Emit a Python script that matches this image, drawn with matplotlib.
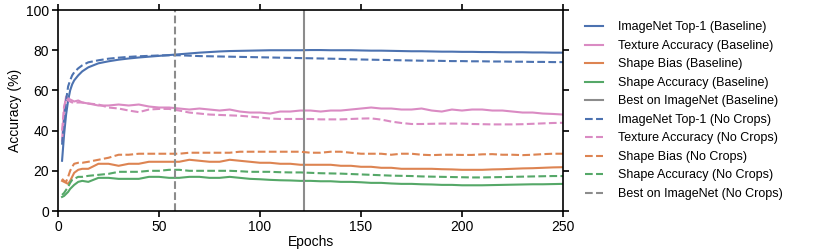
import matplotlib
matplotlib.use("Agg")
import matplotlib.pyplot as plt
import numpy as np

plt.rcParams['font.family'] = ['Liberation Sans', 'DejaVu Sans']

epochs = [2, 3, 4, 5, 6, 7, 8, 10, 12, 15] + list(range(20, 251, 5))

imagenet_base = [25, 38, 48, 55, 60, 63, 65, 67.5, 69.5, 71.5,
                 73.5, 74.5, 75.3, 75.9, 76.4, 76.8, 77.2, 77.6, 78, 78.4,
                 78.8, 79.1, 79.4, 79.6, 79.7, 79.8, 79.9, 80, 80, 80,
                 80, 80.1, 80.1, 80, 80, 80, 79.9, 79.8, 79.8, 79.7,
                 79.6, 79.5, 79.5, 79.4, 79.3, 79.3, 79.2, 79.2, 79.1, 79.1,
                 79, 79, 79, 78.9, 78.9, 78.8, 78.8]
texture_base = [35, 50, 57, 56, 55.5, 55, 54.5, 55, 54, 53.5,
                52.5, 52.5, 53, 52.5, 53, 52, 51.5, 51.5, 51, 50.5,
                51, 50.5, 50, 50.5, 49.5, 49, 49, 48.5, 49.5, 49.5,
                50, 50, 49.5, 50, 50, 50.5, 51, 51.5, 51, 51,
                50.5, 50.5, 51, 50, 49.5, 50.5, 50, 50.5, 50.5, 50,
                50, 49.5, 49, 49, 48.5, 48.3, 48]
shapebias_base = [15, 14.5, 14, 13.5, 15, 17, 19, 20.5, 21, 21,
                  23.5, 23.5, 22.5, 23.5, 23.5, 24.5, 24.5, 24.5, 24.5, 25.5,
                  25, 24.5, 24.5, 25.5, 25, 24.5, 24, 24, 23.5, 23.5,
                  23, 23, 23, 23, 22.5, 22.5, 22, 22, 21.5, 21.5,
                  21, 21, 21, 21, 20.8, 20.7, 20.5, 20.5, 20.5, 20.7,
                  20.8, 21, 21.2, 21.3, 21.5, 21.7, 21.8]
shapeacc_base = [7, 7.5, 8.5, 9.5, 11, 12, 13, 14.5, 15, 14.5,
                 16.5, 16.5, 16, 16, 16, 17, 17, 16.5, 16.5, 17,
                 17, 16.5, 16.5, 17, 16.5, 16, 15.8, 15.5, 15.3, 15.2,
                 15, 15, 14.8, 14.8, 14.5, 14.5, 14.3, 14, 14, 13.7,
                 13.5, 13.5, 13.3, 13.2, 13, 13, 12.8, 12.8, 12.8, 12.9,
                 13, 13.1, 13.2, 13.3, 13.3, 13.4, 13.5]

imagenet_nc = [33, 45, 55, 62, 65, 67.5, 69, 71, 72.5, 74,
               75, 75.8, 76.3, 76.7, 77, 77.2, 77.4, 77.5, 77.5, 77.3,
               77.1, 77, 76.9, 76.8, 76.7, 76.6, 76.5, 76.4, 76.3, 76.2,
               76.1, 76, 75.9, 75.8, 75.7, 75.5, 75.4, 75.3, 75.2, 75.1,
               75, 74.9, 74.8, 74.8, 74.7, 74.6, 74.6, 74.5, 74.5, 74.4,
               74.4, 74.3, 74.3, 74.2, 74.2, 74.1, 74.1]
texture_nc = [40, 52, 56, 55, 54.5, 54, 54, 54, 54, 53.5,
              53, 51.5, 51, 50, 49.2, 50.5, 50.8, 50.8, 50, 49,
              48.5, 48, 47.8, 47.6, 47.4, 47, 46.5, 46, 45.8, 45.8,
              45.8, 45.8, 45.6, 45.6, 45.6, 45.8, 46, 46.1, 45.5, 44.5,
              43.8, 43.3, 43.3, 43.4, 43.5, 43.5, 43.5, 43.3, 43.2, 43.1,
              43.1, 43.1, 43.2, 43.4, 43.6, 43.8, 43.9]
shapebias_nc = [16, 15, 14.5, 17, 20, 22, 23.5, 24, 24, 24.5,
                25.5, 26.5, 28, 28, 28.5, 28.5, 28.5, 28.5, 28.5, 29,
                29, 29, 29, 29, 29.5, 29.5, 29.5, 29.5, 29.5, 29.5,
                29.5, 29, 29, 29.5, 29.5, 29, 28.5, 28.5, 28.5, 28,
                28.5, 28.5, 28, 27.8, 28, 28, 27.9, 27.9, 28.2, 28.3,
                28, 28, 27.8, 28, 28.3, 28.5, 28.5]
shapeacc_nc = [8, 9, 10.5, 12, 14, 15.5, 16, 17, 17, 17.5,
               18, 18.5, 19.5, 19.5, 19.5, 20, 20, 20.5, 20.5, 20,
               20, 20, 20, 20, 19.8, 19.5, 19.5, 19.5, 19.3, 19.2,
               19.2, 19, 18.8, 18.7, 18.6, 18.4, 18.2, 18, 17.8, 17.6,
               17.5, 17.4, 17.2, 17.1, 17, 16.9, 16.8, 16.7, 16.7, 16.8,
               16.9, 17, 17.1, 17.2, 17.3, 17.4, 17.4]

best_base = 122
best_nc = 58

labels = ["ImageNet Top-1", "Texture Accuracy", "Shape Bias", "Shape Accuracy"]
colors = ["#4C72B0", "#DA8BC3", "#DD8452", "#55A868"]
gray = "#8C8C8C"

fig = plt.figure(figsize=(8.3, 2.49), dpi=100)
ax = fig.add_axes([0.0699, 0.1526, 0.6084, 0.807])

base = [imagenet_base, texture_base, shapebias_base, shapeacc_base]
nc = [imagenet_nc, texture_nc, shapebias_nc, shapeacc_nc]

for lab, c, y in zip(labels, colors, base):
    ax.plot(epochs, y, color=c, lw=1.5, label=f"{lab} (Baseline)")
ax.axvline(best_base, color=gray, lw=1.5, label="Best on ImageNet (Baseline)")
for lab, c, y in zip(labels, colors, nc):
    ax.plot(epochs, y, color=c, lw=1.5, ls="--", label=f"{lab} (No Crops)")
ax.axvline(best_nc, color=gray, lw=1.5, ls="--", label="Best on ImageNet (No Crops)")

ax.set_xlim(0, 250)
ax.set_ylim(0, 100)
ax.set_xticks([0, 50, 100, 150, 200, 250])
ax.set_yticks([0, 20, 40, 60, 80, 100])
ax.tick_params(direction="out", length=4.5, width=1.2, top=True, right=True,
               labelsize=10, pad=2)
for s in ax.spines.values():
    s.set_linewidth(1.2)
ax.set_xlabel("Epochs", fontsize=10, labelpad=1)
ax.set_ylabel("Accuracy (%)", fontsize=10, labelpad=3)

ax.legend(loc="upper left", bbox_to_anchor=(1.034, 0.968), frameon=False,
          fontsize=9, handlelength=1.45, labelspacing=0.52, handletextpad=1.15,
          borderaxespad=0)

fig.savefig("out.png", dpi=100)
